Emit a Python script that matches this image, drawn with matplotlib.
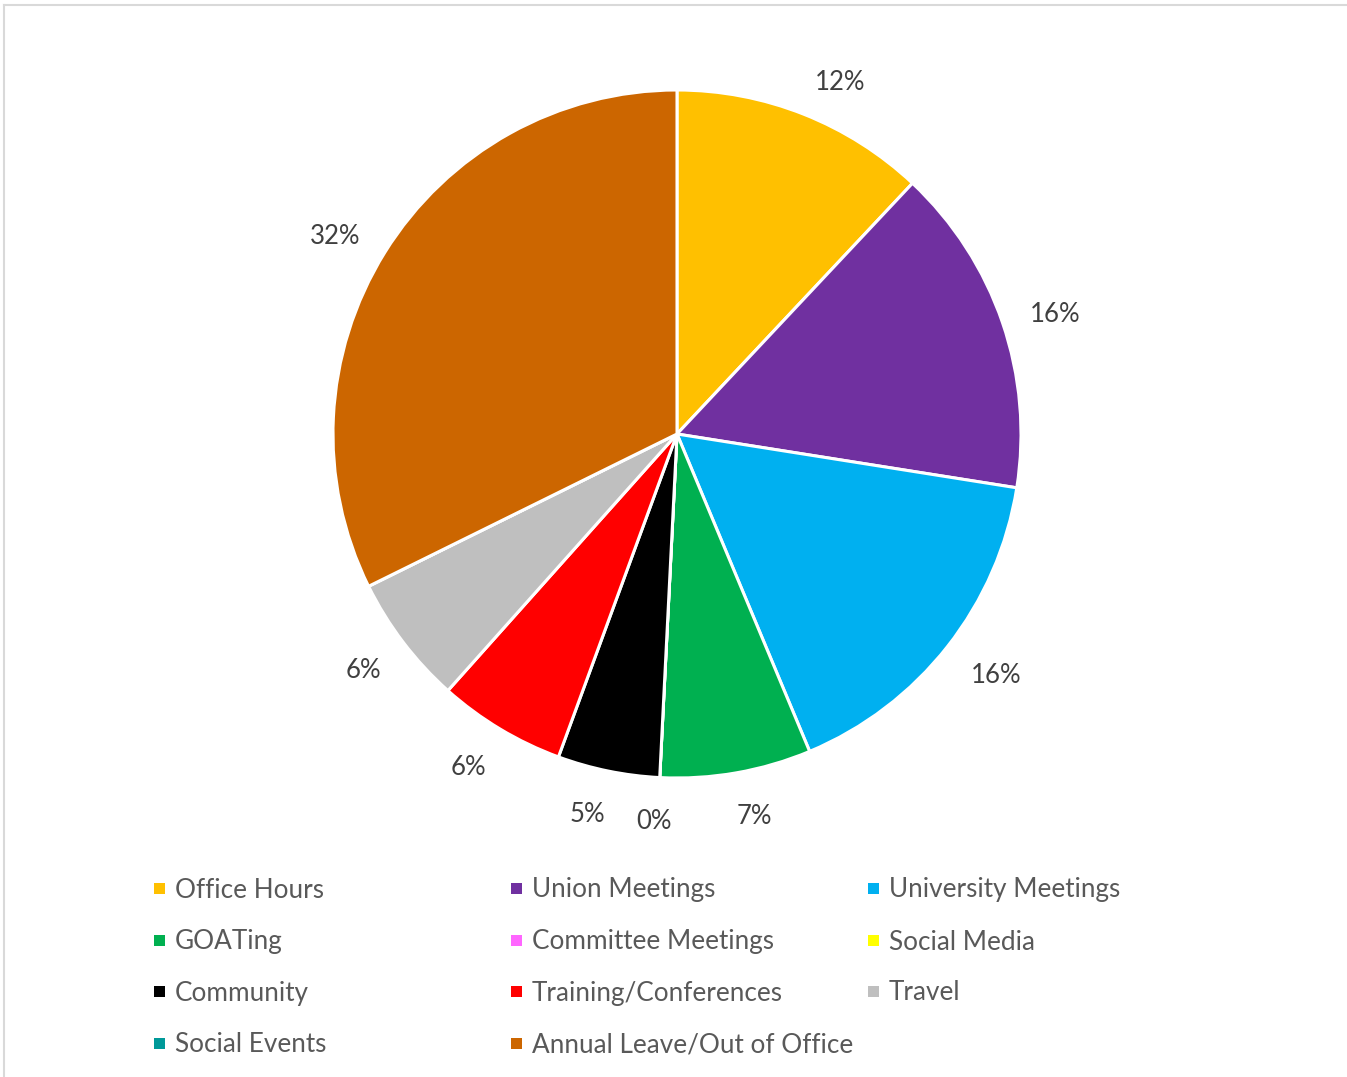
import matplotlib
matplotlib.use("Agg")
import matplotlib.pyplot as plt
from matplotlib.patches import Rectangle
from matplotlib.lines import Line2D
import numpy as np

# dane (procent czasu)
kategorie = ["Office Hours", "Union Meetings", "University Meetings", "GOATing",
             "Committee Meetings", "Social Media", "Community", "Training/Conferences",
             "Travel", "Social Events", "Annual Leave/Out of Office"]
wartosci = [12.0, 15.5, 16.2, 7.1, 0.0, 0.0, 4.8, 6.0, 6.1, None, 32.3]
kolory = ["#FFC000", "#7030A0", "#00B0F0", "#00B050", "#FF66FF", "#FFFF00",
          "#000000", "#FF0000", "#BFBFBF", "#009999", "#CC6600"]

czcionka = "Lato"
W, H = 1347, 1077

fig = plt.figure(figsize=(W / 100, H / 100), dpi=100)

# obramowanie obszaru wykresu (widoczne tylko u gory i z lewej)
fig.add_artist(Line2D([4 / W, 1], [1 - 5 / H, 1 - 5 / H], color="#D9D9D9", lw=1.5))
fig.add_artist(Line2D([4 / W, 4 / W], [0, 1 - 5 / H], color="#D9D9D9", lw=1.5))

cx, cy, r = 677, 434, 344
ax = fig.add_axes([(cx - r) / W, (H - cy - r) / H, 2 * r / W, 2 * r / H])
ax.axis("off")

wart_pie = [0.0 if w is None else w for w in wartosci]
wedges, _ = ax.pie(wart_pie, colors=kolory, startangle=90, counterclock=False,
                   radius=1, wedgeprops=dict(edgecolor="white", linewidth=2.2))
ax.set_xlim(-1, 1)
ax.set_ylim(-1, 1)

suma = sum(wart_pie)
px = 1 / r  # jeden piksel w jednostkach danych
juz_opisane = []
for w, wedge in zip(wartosci, wedges):
    if w is None:
        continue
    kat_st = round((wedge.theta1 + wedge.theta2) / 2, 3)
    if kat_st in juz_opisane:
        continue  # etykiety zerowych wycinkow nakladaja sie
    juz_opisane.append(kat_st)
    tekst = "%d%%" % round(w / suma * 100)
    kat = np.deg2rad(kat_st)
    dx, dy = np.cos(kat), np.sin(kat)
    odl = 1 + 29 * px
    pol_szer = len(tekst) * 8.5 * px
    pol_wys = 10 * px
    x = odl * dx + pol_szer * np.clip(4.5 * dx, -1, 1)
    y = odl * dy + pol_wys * dy - 5 * px
    ax.text(x, y, tekst, ha="center", va="center",
            fontsize=18.5, color="#404040", family=czcionka, clip_on=False)

# legenda w trzech kolumnach
kol_x = [159, 516, 873]
wiersz_y = [888, 940, 991, 1043]
for i, (nazwa, kolor) in enumerate(zip(kategorie, kolory)):
    x = kol_x[i % 3]
    y = wiersz_y[i // 3]
    fig.add_artist(Rectangle(((x - 5.5) / W, (H - y - 5.5) / H), 11 / W, 11 / H,
                             facecolor=kolor, edgecolor="none"))
    fig.text((x + 16) / W, (H - y - 2) / H, nazwa, ha="left", va="center",
             fontsize=18.8, color="#595959", family=czcionka)

fig.savefig("out.png", dpi=100)
